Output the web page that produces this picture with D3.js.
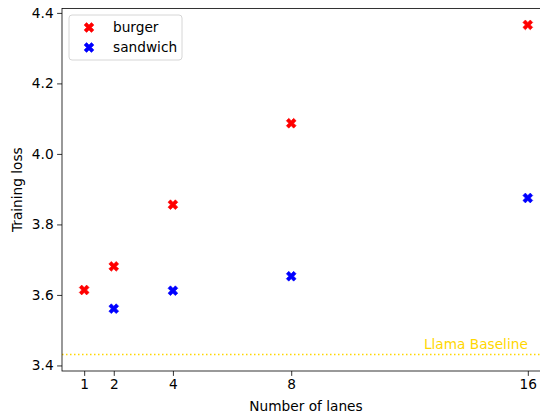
<!DOCTYPE html>
<html>
<head>
<meta charset="utf-8">
<script src="https://cdn.jsdelivr.net/npm/d3@7"></script>
<style>
  html, body { margin: 0; padding: 0; background: #fff; }
  svg { display: block; font-family: "DejaVu Sans", sans-serif; }
</style>
</head>
<body>
<svg id="chart" width="540" height="417"></svg>
<script>
// Training loss versus number of lanes
const lanes = [1, 2, 4, 8, 16];
const burgerLanes = [1, 2, 4, 8, 16];
const burgerLoss = [3.614, 3.681, 3.856, 4.087, 4.366];
const sandwichLanes = [2, 4, 8, 16];
const sandwichLoss = [3.561, 3.612, 3.653, 3.875];
const baselineLoss = 3.431;
const yTicks = [3.4, 3.6, 3.8, 4.0, 4.2, 4.4];

(function () {
  const svg = d3.select("#chart");
  const plotLeft = 62, plotRight = 550, plotTop = 8.4, plotBottom = 371;
  const fontSize = 13.7;

  // Limits padded by 5% of the data span
  const xMin = d3.min(lanes), xMax = d3.max(lanes);
  const xPad = (xMax - xMin) * 0.05;
  const allY = burgerLoss.concat(sandwichLoss, [baselineLoss]);
  const yMin = d3.min(allY), yMax = d3.max(allY);
  const yPad = (yMax - yMin) * 0.05;

  const x = d3.scaleLinear().domain([xMin - xPad, xMax + xPad]).range([plotLeft, plotRight]);
  const y = d3.scaleLinear().domain([yMin - yPad, yMax + yPad]).range([plotBottom, plotTop]);

  // Filled "X" marker
  const xMarker = {
    draw(ctx, size) {
      const k = Math.sqrt(size) / 4;
      const pts = [[-1,-2],[0,-1],[1,-2],[2,-1],[1,0],[2,1],[1,2],[0,1],[-1,2],[-2,1],[-1,0],[-2,-1]];
      ctx.moveTo(pts[0][0]*k, pts[0][1]*k);
      for (let i = 1; i < pts.length; i++) ctx.lineTo(pts[i][0]*k, pts[i][1]*k);
      ctx.closePath();
    }
  };
  const markerPath = d3.symbol().type(xMarker).size(96)();

  // Baseline
  svg.append("line")
    .attr("x1", plotLeft).attr("x2", plotRight)
    .attr("y1", y(baselineLoss)).attr("y2", y(baselineLoss))
    .attr("stroke", "gold").attr("stroke-width", 1.5)
    .attr("stroke-dasharray", "1.5,2.5");
  svg.append("text")
    .attr("x", x(16)).attr("y", y(baselineLoss) - 6)
    .attr("text-anchor", "end")
    .attr("fill", "gold")
    .attr("font-size", fontSize)
    .text("Llama Baseline");

  // Series points
  function drawSeries(xs, ys, color) {
    svg.append("g").selectAll("path")
      .data(xs.map((d, i) => [d, ys[i]]))
      .join("path")
      .attr("d", markerPath)
      .attr("transform", d => `translate(${x(d[0])},${y(d[1])})`)
      .attr("fill", color)
      .attr("stroke", color).attr("stroke-width", 0.6);
  }
  drawSeries(burgerLanes, burgerLoss, "red");
  drawSeries(sandwichLanes, sandwichLoss, "blue");

  // Axes
  const xAxis = d3.axisBottom(x).tickValues(lanes).tickSize(4.9).tickPadding(3.5).tickFormat(d3.format("d"));
  const yAxis = d3.axisLeft(y).tickValues(yTicks).tickSize(4.9).tickPadding(3.5).tickFormat(d3.format(".1f"));

  const gx = svg.append("g").attr("transform", `translate(0,${plotBottom})`).call(xAxis);
  const gy = svg.append("g").attr("transform", `translate(${plotLeft},0)`).call(yAxis);
  [gx, gy].forEach(g => {
    g.select(".domain").remove();
    g.selectAll(".tick line").attr("stroke", "#000").attr("stroke-width", 0.8);
    g.selectAll(".tick text").attr("font-size", fontSize).attr("fill", "#000")
      .attr("font-family", "DejaVu Sans, sans-serif");
  });

  // Frame
  svg.append("rect")
    .attr("x", plotLeft).attr("y", plotTop)
    .attr("width", plotRight - plotLeft).attr("height", plotBottom - plotTop)
    .attr("fill", "none").attr("stroke", "#000").attr("stroke-width", 0.8);

  // Axis titles
  svg.append("text")
    .attr("x", (plotLeft + plotRight) / 2).attr("y", 411)
    .attr("text-anchor", "middle").attr("font-size", fontSize)
    .text("Number of lanes");
  svg.append("text")
    .attr("transform", `translate(22,${(plotTop + plotBottom) / 2}) rotate(-90)`)
    .attr("text-anchor", "middle").attr("font-size", fontSize)
    .text("Training loss");

  // Legend
  const legend = svg.append("g").attr("transform", "translate(69,15)");
  legend.append("rect")
    .attr("width", 113).attr("height", 45).attr("rx", 3)
    .attr("fill", "#fff").attr("fill-opacity", 0.8)
    .attr("stroke", "#ccc").attr("stroke-width", 0.8);
  const entries = [["burger", "red"], ["sandwich", "blue"]];
  entries.forEach(([name, color], i) => {
    legend.append("path")
      .attr("d", markerPath)
      .attr("transform", `translate(20,${12.5 + i * 20})`)
      .attr("fill", color)
      .attr("stroke", color).attr("stroke-width", 0.6);
    legend.append("text")
      .attr("x", 44).attr("y", 12.5 + i * 20)
      .attr("dy", "0.35em").attr("font-size", fontSize)
      .text(name);
  });
})();
</script>
</body>
</html>
